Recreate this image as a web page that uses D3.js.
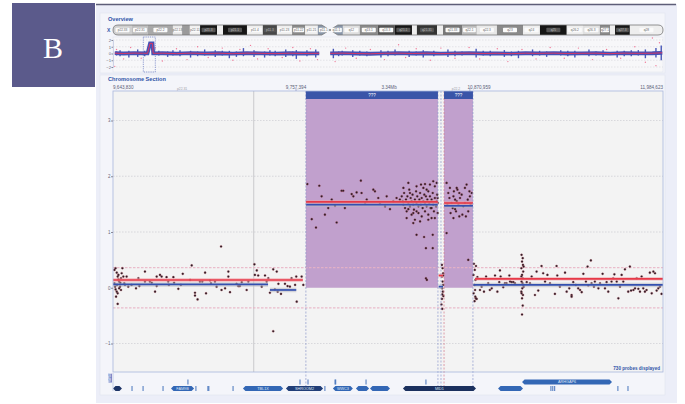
<!DOCTYPE html>
<html>
<head>
<meta charset="utf-8">
<script src="https://cdn.jsdelivr.net/npm/d3@7"></script>
<style>
  body { margin: 0; background: #fff; }
  svg { display: block; font-family: "Liberation Sans", Arial, sans-serif; }
</style>
</head>
<body>
<svg id="chart" width="685" height="404"></svg>
<script>
// chromosome X ideogram bands: [start Mb, end Mb, name, stain]
const bands = [
  [0, 5.4, "p22.33", "#cfcfcf"], [5.4, 9.9, "p22.31", "#bdbdbd"], [9.9, 17.0, "p22.2", "#a8a8a8"],
  [17.0, 19.6, "p22.13", "#e8e8e8"], [19.6, 21.8, "p22.12", "#9a9a9a"], [21.8, 24.7, "p22.11", "#f0f0f0"],
  [24.7, 29.5, "p21.3", "#161616"], [29.5, 31.2, "p21.2", "#eeeeee"], [31.2, 38.0, "p21.1", "#161616"],
  [38.0, 42.5, "p11.4", "#eeeeee"], [42.5, 46.5, "p11.3", "#474747"], [46.5, 50.8, "p11.23", "#eeeeee"],
  [50.8, 54.5, "p11.22", "#8a8a8a"], [54.5, 58.1, "p11.21", "#eeeeee"], [58.1, 61.5, "p11.1", "#8996a8"],
  [61.5, 65.2, "q11.1", "#8996a8"], [65.2, 70.0, "q12", "#dddddd"], [70.0, 75.1, "q13.1", "#8a8a8a"],
  [75.1, 79.9, "q13.3", "#555555"], [79.9, 84.8, "q21.1", "#161616"], [84.8, 86.2, "q21.2", "#eeeeee"],
  [86.2, 91.9, "q21.31", "#333333"], [91.9, 93.6, "q21.32", "#eeeeee"], [93.6, 99.0, "q21.33", "#777777"],
  [99.0, 103.2, "q22.1", "#bbbbbb"], [103.2, 108.9, "q22.3", "#e8e8e8"], [108.9, 116.3, "q23", "#8a8a8a"],
  [116.3, 121.1, "q24", "#eeeeee"], [121.1, 128.7, "q25", "#161616"], [128.7, 133.3, "q26.2", "#eeeeee"],
  [133.3, 138.1, "q26.3", "#e0e0e0"], [138.1, 141.0, "q27.1", "#8a8a8a"], [141.0, 142.4, "q27.2", "#eeeeee"],
  [142.4, 146.6, "q27.3", "#161616"], [146.6, 156.0, "q28", "#eeeeee"]
];
const centromere = 61.5;
const chrLength = 156;

// overview (whole chromosome) trend, spikes and outliers
const overviewTrend = [
  [0.5, 0.05], [3, 0.0], [6, 0.06], [9.8, 0.02], [10.5, 1.5], [11.2, 1.5], [11.4, 0.02],
  [14, 0.04], [18, -0.02], [22, 0.05], [26, 0.0], [30, 0.04], [34, -0.03], [38, 0.05],
  [42, 0.02], [46, -0.02], [50, 0.04], [54, 0.0], [58.5, 0.03], [59, null],
  [61.6, 0.02], [65, 0.05], [69, 0.0], [73, -0.04], [77, 0.03], [81, 0.05], [85, 0.0],
  [89, 0.04], [93, -0.02], [97, 0.03], [101, 0.05], [105, 0.0], [109, 0.03], [113, -0.02],
  [117, 0.04], [121, 0.02], [125, 0.05], [129, 0.0], [133, 0.03], [137, 0.04], [141, -0.02],
  [145, 0.05], [149, 0.02], [153, 0.04], [155.8, 0.1]
];
const overviewSpikes = [
  [2, -0.4, 0.5], [4.5, -0.6, 0.4], [7, -0.5, 0.6], [13, -0.3, 0.4], [15.5, -0.5, 0.3], [19, -0.4, 0.5],
  [22, -0.6, 0.4], [26, -0.3, 0.6], [29, -0.5, 0.5], [33, -0.7, 0.4], [37, -0.4, 0.8], [40, -0.5, 0.5],
  [43, -0.6, 0.3], [46, -0.4, 0.4], [49, -0.5, 0.6], [52, -0.8, 0.5], [55, -0.4, 0.5], [57.5, -0.6, 0.6],
  [62.5, -0.7, 0.7], [65, -0.3, 0.4], [68, -0.5, 0.5], [72, -0.4, 0.3], [76, -0.6, 0.5], [80, -0.3, 0.6],
  [84, -0.5, 0.4], [88, -0.6, 0.5], [91, -0.4, 0.4], [95, -0.5, 0.6], [99, -0.3, 0.3], [103, -0.6, 0.7],
  [107, -0.4, 0.4], [111, -0.5, 0.5], [115, -0.7, 0.4], [119, -0.4, 0.6], [123, -0.5, 0.3], [127, -0.3, 0.5],
  [131, -0.6, 0.4], [135, -0.4, 0.6], [139, -0.5, 0.5], [143, -0.6, 0.4], [147, -0.4, 0.5], [151, -0.7, 0.6],
  [154, -0.6, 0.8], [155.5, -1.0, 1.2],
  [1, -0.3, 0.3], [9, -0.4, 0.4], [17, -0.3, 0.5], [24, -0.4, 0.3], [31, -0.3, 0.4], [35, -0.5, 0.3],
  [44.5, -0.3, 0.5], [51, -0.4, 0.3], [64, -0.4, 0.3], [70, -0.3, 0.4], [78, -0.4, 0.4], [86, -0.3, 0.3],
  [97, -0.4, 0.4], [105, -0.3, 0.4], [113, -0.4, 0.3], [121, -0.3, 0.4], [129, -0.4, 0.4], [137, -0.3, 0.3],
  [145, -0.4, 0.4], [149, -0.3, 0.5]
];
const overviewDots = [
  [0.5, -1.9], [1, 0.6], [3, -0.8], [5, 0.9], [8, -0.7], [12, 0.8], [14, -1.1], [18, 0.7], [21, -0.9],
  [24, 1.0], [27, -0.6], [31, 0.8], [34, -1.0], [36, 0.6], [39, 1.2], [41, -0.8], [44, 0.7], [48, -0.6],
  [51, 0.9], [53, -1.1], [56, 0.7], [58, -0.9], [63, -1.2], [66, 0.8], [69, -0.7], [73, 0.6], [77, -0.9],
  [81, 1.3], [83, -0.6], [86, 0.7], [90, -1.0], [93, 0.8], [97, -0.7], [101, 0.9], [104, -0.8], [109, 0.7],
  [112, -1.2], [116, 0.6], [120, -0.8], [124, 0.9], [128, -0.7], [132, 0.8], [136, -0.9], [140, 0.6],
  [144, -0.7], [148, 1.0], [151, -1.3], [154, -1.8], [155, 1.6], [153, 2.3]
];
const overviewWindow = [8.6, 12.0];
const overviewTicks = [2, 1, 0, -1, -2];

// chromosome section: probes as [kb from window start, log2 ratio]
const probesLeft = [
  [6, 0.32], [11, 0.35], [16, 0.27], [20, 0.20], [23, 0.15], [26, 0.11], [6, 0.08], [9, 0.02], [11, -0.03],
  [16, -0.07], [20, -0.10], [13, -0.16], [20, -0.29], [30, 0.02], [34, 0.17], [37, 0.26], [40, 0.35],
  [44, 0.20], [48, 0.08], [34, -0.04], [26, -0.01], [17, 0.05], [23, 0.23], [31, 0.09], [51, 0.05], [58, 0.20],
  [65, 0.02], [79, 0.05], [98, -0.01], [108, 0.17], [112, 0.03], [136, 0.11], [136, 0.29], [157, 0.11],
  [165, 0.09], [179, -0.07], [186, 0.20], [186, 0.03], [200, 0.23], [207, 0.20], [228, 0.19], [235, 0.11],
  [238, 0.05], [257, 0.19], [260, 0.09], [278, -0.02], [289, 0.05], [297, 0.25], [328, 0.14], [335, 0.40],
  [349, -0.09], [349, -0.14], [360, -0.21], [370, 0.11], [380, 0.11], [392, 0.27], [396, -0.10], [413, 0.13],
  [417, 0.08], [434, 0.11], [441, 0.02], [460, 0.74], [462, -0.04], [477, -0.01], [491, 0.29], [491, 0.20],
  [498, -0.08], [526, 0.07], [533, 0.03], [540, 0.03], [548, 0.10], [569, -0.04], [576, 0.11], [602, 0.42],
  [604, 0.23], [612, 0.31], [618, 0.22], [633, 0.02], [647, 0.22], [654, 0.11], [661, 0.17], [668, -0.09],
  [682, 0.33], [682, -0.78], [689, -0.03], [697, 0.29], [701, -0.07], [704, 0.07], [715, -0.11], [732, 0.07],
  [743, 0.03], [753, 0.02], [760, 0.17], [775, 0.05], [780, 0.20], [782, -0.25], [803, 0.20], [810, 0.05]
];
const probesGain = [
  [827, 1.86], [878, 1.83], [846, 1.23], [864, 1.08], [888, 1.64], [902, 1.31], [916, 1.43], [931, 1.58],
  [945, 1.47], [952, 1.17], [973, 1.74], [980, 1.74], [987, 1.43], [1016, 1.68], [1023, 1.64], [1037, 1.71],
  [1055, 1.92], [1058, 1.70], [1073, 1.52], [1080, 1.58], [1108, 1.76], [1115, 1.73], [1129, 1.61],
  [1136, 1.51], [1158, 1.46], [1165, 1.64], [1179, 1.41], [1193, 1.55], [1207, 1.61], [1221, 1.58],
  [1229, 1.64], [1233, 1.55], [1236, 1.49], [1239, 1.70], [1243, 1.43], [1247, 1.58], [1250, 1.37],
  [1253, 1.64], [1257, 1.52], [1257, 1.88], [1261, 1.76], [1264, 1.46], [1267, 1.61], [1271, 1.55],
  [1271, 1.31], [1275, 1.67], [1278, 1.49], [1281, 1.40], [1285, 1.58], [1285, 1.22], [1290, 1.73],
  [1292, 1.52], [1292, 0.95], [1295, 1.64], [1300, 1.46], [1300, 1.34], [1304, 1.58], [1307, 1.70],
  [1310, 1.49], [1314, 1.61], [1314, 1.28], [1318, 1.43], [1321, 1.55], [1324, 0.91], [1325, 1.67],
  [1328, 1.52], [1328, 1.37], [1332, 1.64], [1332, 0.71], [1335, 1.46], [1338, 1.58], [1342, 1.73],
  [1342, 1.31], [1346, 1.52], [1349, 1.85], [1349, 1.64], [1352, 1.43], [1356, 1.58], [1356, 1.25],
  [1361, 1.70], [1361, 0.95], [1363, 1.49], [1363, 1.91], [1366, 1.37], [1370, 1.61], [1370, 1.82],
  [1375, 1.46], [1378, 1.55], [1378, 1.88], [1380, 1.67], [1382, 1.52], [1382, 1.34], [1382, 1.61],
  [1342, 1.22], [1307, 1.19], [1278, 1.34], [1250, 1.25], [1264, 1.70], [1236, 1.79], [1257, 1.41],
  [1292, 1.37], [1321, 1.79], [1335, 1.76], [1356, 1.43], [1370, 1.25], [1292, 1.82], [1311, 1.85],
  [1328, 1.86], [1361, 0.71], [1278, 1.16], [1332, 0.17], [1336, 0.14],
  [1400, 0.41], [1403, 0.35], [1405, 0.26], [1400, 0.20], [1403, 0.11], [1405, 0.05], [1401, -0.01],
  [1404, -0.07], [1402, -0.12], [1406, -0.15], [1400, -0.20], [1405, 0.22], [1398, -0.30], [1401, -0.38],
  [1420, 1.88], [1427, 1.70], [1432, 1.61], [1434, 1.79], [1441, 1.52], [1446, 1.43], [1449, 1.64],
  [1451, 1.73], [1456, 1.58], [1460, 1.37], [1463, 1.55], [1466, 1.76], [1470, 1.49], [1474, 1.28],
  [1477, 1.61], [1484, 1.67], [1491, 1.46], [1498, 1.52], [1505, 1.85], [1510, 1.58], [1512, 1.37],
  [1517, 1.73], [1519, 1.64], [1522, 1.49], [1527, 1.70], [1423, 1.49], [1437, 1.34], [1449, 1.25],
  [1463, 1.79], [1487, 1.31], [1502, 1.28], [1420, 0.98], [1498, 1.79], [1474, 1.70], [1456, 1.41],
  [1512, 0.50]
];
const probesRight = [
  [1536, 0.43], [1540, 0.32], [1534, 0.23], [1543, 0.14], [1538, 0.05], [1541, -0.04], [1535, -0.10],
  [1544, -0.19], [1539, -0.24], [1545, 0.39], [1548, -0.20], [1542, -0.16],
  [1551, 0.19], [1562, -0.04], [1569, 0.02], [1579, -0.07], [1588, 0.20], [1597, 0.08], [1604, -0.04],
  [1612, -0.01], [1626, 0.22], [1636, -0.07], [1644, 0.10], [1647, 0.31], [1650, 0.20], [1661, 0.01],
  [1668, 0.08], [1675, 0.08], [1687, 0.22], [1690, 0.11], [1697, 0.10], [1704, 0.10], [1711, 0.08],
  [1739, 0.59], [1744, 0.53], [1741, 0.47], [1745, 0.41], [1738, 0.35], [1746, 0.29], [1741, 0.23],
  [1744, 0.17], [1739, 0.11], [1746, 0.05], [1742, -0.01], [1738, -0.07], [1745, -0.13], [1741, -0.19],
  [1744, -0.32], [1741, -0.48], [1748, 0.38], [1738, 0.20], [1748, 0.02], [1739, -0.10], [1743, 0.08],
  [1761, 0.10], [1775, 0.08], [1782, 0.20], [1796, -0.13], [1803, 0.29], [1810, -0.05], [1824, 0.39],
  [1831, 0.26], [1839, 0.11], [1849, 0.23], [1860, 0.08], [1881, -0.11], [1888, 0.39], [1891, 0.22],
  [1902, 0.02], [1924, 0.27], [1931, -0.07], [1942, -0.01], [1952, -0.13], [1952, -0.16], [1959, 0.10],
  [1970, 0.05], [1980, -0.01], [1988, -0.04], [1995, -0.08], [2002, 0.25], [2013, 0.11], [2020, 0.38],
  [2023, 0.04], [2034, 0.49], [2037, 0.08], [2047, 0.02], [2051, 0.11], [2066, -0.01], [2073, 0.08],
  [2084, 0.25], [2094, -0.01], [2101, 0.10], [2108, -0.07], [2122, 0.11], [2129, 0.17], [2134, 0.24],
  [2144, 0.11], [2151, -0.19], [2158, 0.02], [2165, 0.23], [2172, 0.11], [2179, 0.33], [2193, -0.07],
  [2200, 0.38], [2205, -0.05], [2215, -0.04], [2222, -0.01], [2229, 0.17], [2236, -0.02], [2243, -0.07],
  [2250, 0.20], [2257, -0.01], [2264, -0.07], [2271, -0.04], [2285, 0.27], [2293, -0.10], [2300, 0.29],
  [2307, 0.26], [2314, -0.05], [2321, -0.01], [2328, 0.02], [2335, -0.11]
];

// segment means [start kb, end kb, value]
const segRed = [[0, 808, 0.14], [821, 1383, 1.54], [1386, 1405, 0.22], [1409, 1532, 1.52], [1541, 2341, 0.16]];
const segBlue = [[0, 660, 0.06], [668, 780, -0.04], [821, 1383, 1.49], [1386, 1405, 0.02], [1409, 1532, 1.47], [1534, 2341, 0.05]];

const aberrations = [[821, 1383, "???"], [1409, 1532, "???"]];
const boundaries = [[821, "#8c9acb"], [1383, "#8c9acb"], [1396, "#8c9acb"], [1409, "#d47a8a"], [1532, "#8c9acb"]];
const cytoLine = 599;
const cytoLabels = [[294, "p22.31"], [1460, "p22.2"]];
const thresholds = [0.36, -0.36];
const mainTicks = [3, 2, 1, 0, -1];
const gridVals = [3, 2, 1, -1];
const windowKb = 2341;
const posLabels = [[0, "9,643,830", "start"], [779, "9,757,394", "middle"], [1175, "3.34Mb", "middle"],
  [1558, "10,870,959", "middle"], [windowKb, "11,984,623", "end"]];
const posTicks = [779, 1519];

// genes [start kb, end kb, name, row, colour]
const genes = [
  [0, 38, "", 0, "#1d3466"], [247, 345, "FAM9B", 0, "#3367b5"], [553, 724, "TBL1X", 0, "#3367b5"],
  [736, 894, "SHROOM2", 0, "#213e78"], [936, 1021, "WWC3", 0, "#3367b5"], [1034, 1090, "", 0, "#3367b5"],
  [1094, 1179, "", 0, "#3367b5"], [1234, 1545, "MID1", 0, "#1b305e"], [1639, 1745, "", 0, "#3367b5"],
  [1741, 2124, "ARHGAP6", 1, "#3367b5"]
];
const geneTicks = [[81, 0], [128, 0], [213, 0], [353, 0], [404, 0], [408, 0], [511, 0], [902, 0],
  [1864, 0], [1872, 0], [1880, 0], [2149, 0], [2192, 0], [319, 1], [796, 1], [830, 1], [945, 1],
  [948, 1], [1077, 1], [1332, 1]];
const probeCount = 730;

const svg = d3.select("#chart");

// frame
svg.append("rect").attr("x", 12).attr("y", 3).attr("width", 83).attr("height", 84).attr("fill", "#5b5a8b");
svg.append("text").attr("x", 53).attr("y", 58).attr("text-anchor", "middle")
  .attr("font-family", "'Liberation Serif', 'DejaVu Serif', serif").attr("font-size", 30)
  .attr("fill", "#fff").text("B");
svg.append("rect").attr("x", 96).attr("y", 4).attr("width", 581).attr("height", 399).attr("fill", "#eceef8");
svg.append("line").attr("x1", 96).attr("x2", 676).attr("y1", 4.5).attr("y2", 4.5)
  .attr("stroke", "#5e5e78").attr("stroke-width", 1.4);
svg.append("rect").attr("x", 100).attr("y", 13).attr("width", 565).attr("height", 60)
  .attr("fill", "#f4f5fa").attr("stroke", "#e0e3ef").attr("stroke-width", 0.6);
svg.append("rect").attr("x", 100).attr("y", 75).attr("width", 565).attr("height", 320)
  .attr("fill", "#f4f5fa").attr("stroke", "#e0e3ef").attr("stroke-width", 0.6);

svg.append("text").attr("x", 108).attr("y", 20.5).attr("font-size", 5.6).attr("font-weight", "bold")
  .attr("fill", "#2f54a8").text("Overview");
svg.append("text").attr("x", 108).attr("y", 80.5).attr("font-size", 5.6).attr("font-weight", "bold")
  .attr("fill", "#2f54a8").text("Chromosome Section");

// ---------- overview ----------
const xChr = d3.scaleLinear().domain([0, chrLength]).range([113, 663]);
const yOv = d3.scaleLinear().domain([-2, 2]).range([67, 40]);
const ideoTop = 25, ideoBot = 35, ideoMid = 30;

const cx = xChr(centromere), x0 = xChr(0), x1 = xChr(chrLength);
const outline = `M${x0 + 5},${ideoTop} L${cx - 8},${ideoTop} L${cx},${ideoMid} L${cx + 8},${ideoTop} L${x1 - 5},${ideoTop}
  Q${x1},${ideoTop} ${x1},${ideoMid} Q${x1},${ideoBot} ${x1 - 5},${ideoBot} L${cx + 8},${ideoBot} L${cx},${ideoMid}
  L${cx - 8},${ideoBot} L${x0 + 5},${ideoBot} Q${x0},${ideoBot} ${x0},${ideoMid} Q${x0},${ideoTop} ${x0 + 5},${ideoTop} Z`;
svg.append("clipPath").attr("id", "ideoClip").append("path").attr("d", outline);

const ideo = svg.append("g").attr("clip-path", "url(#ideoClip)");
ideo.selectAll("rect").data(bands).enter().append("rect")
  .attr("x", d => xChr(d[0])).attr("width", d => xChr(d[1]) - xChr(d[0]))
  .attr("y", ideoTop).attr("height", ideoBot - ideoTop).attr("fill", d => d[3]);
svg.append("path").attr("d", outline).attr("fill", "none").attr("stroke", "#777").attr("stroke-width", 0.8);

const isDark = d => d[3] === "#161616" || d[3] === "#333333" || d[3] === "#474747";
const bandLabels = svg.append("g").selectAll("g").data(bands.filter(d => xChr(d[1]) - xChr(d[0]) > 9)).enter().append("g")
  .attr("transform", d => `translate(${(xChr(d[0]) + xChr(d[1])) / 2},${ideoMid})`);
bandLabels.append("rect").attr("x", d => -Math.min(7, (xChr(d[1]) - xChr(d[0])) / 2 - 1)).attr("y", -2.3)
  .attr("width", d => 2 * Math.min(7, (xChr(d[1]) - xChr(d[0])) / 2 - 1)).attr("height", 4.6).attr("rx", 0.8)
  .attr("fill", d => isDark(d) ? "#555" : "#fafafa");
bandLabels.append("text").attr("text-anchor", "middle").attr("dy", 1.2).attr("font-size", 3.2)
  .attr("fill", d => isDark(d) ? "#bbb" : "#666").text(d => d[2]);

svg.append("text").attr("x", 107).attr("y", 32).attr("font-size", 5).attr("font-weight", "bold")
  .attr("fill", "#2f54a8").text("X");

svg.append("rect").attr("x", 113).attr("y", 37).attr("width", 550).attr("height", 35)
  .attr("fill", "#f7f7f9").attr("stroke", "#dde1ee").attr("stroke-width", 0.5);
svg.append("g").selectAll("line").data(overviewTicks.filter(v => v !== 0)).enter().append("line")
  .attr("x1", 113).attr("x2", 663).attr("y1", d => yOv(d)).attr("y2", d => yOv(d))
  .attr("stroke", "#cfcfd6").attr("stroke-width", 0.5).attr("stroke-dasharray", "1.5,1.5");

svg.append("g").attr("transform", "translate(113,0)")
  .call(d3.axisLeft(yOv).tickValues(overviewTicks).tickSize(1.5).tickFormat(d3.format("d")))
  .call(g => g.select(".domain").attr("stroke", "#a9b4d8").attr("stroke-width", 0.5))
  .call(g => g.selectAll("line").attr("stroke", "#889"))
  .call(g => g.selectAll("text").attr("font-size", 4.2).attr("fill", "#667").attr("x", -2));

svg.append("g").selectAll("circle").data(overviewDots).enter().append("circle")
  .attr("cx", d => xChr(d[0])).attr("cy", d => yOv(d[1])).attr("r", 0.7).attr("fill", "#f07a98");
svg.append("g").selectAll("line").data(overviewSpikes).enter().append("line")
  .attr("x1", d => xChr(d[0])).attr("x2", d => xChr(d[0])).attr("y1", d => yOv(d[1])).attr("y2", d => yOv(d[2]))
  .attr("stroke", "#4656b8").attr("stroke-width", 1.4);

const ovLine = d3.line().defined(d => d[1] !== null).x(d => xChr(d[0])).y(d => yOv(d[1]));
svg.append("path").datum(overviewTrend).attr("d", ovLine).attr("fill", "none")
  .attr("stroke", "#4552b6").attr("stroke-width", 3.8);
svg.append("path").datum(overviewTrend).attr("d", ovLine).attr("fill", "none")
  .attr("stroke", "#e8345a").attr("stroke-width", 0.9);

svg.append("rect").attr("x", xChr(overviewWindow[0])).attr("y", 37)
  .attr("width", xChr(overviewWindow[1]) - xChr(overviewWindow[0])).attr("height", 35)
  .attr("fill", "none").attr("stroke", "#4b62b8").attr("stroke-width", 0.6).attr("stroke-dasharray", "1.2,1");

// ---------- chromosome section ----------
const xKb = d3.scaleLinear().domain([0, windowKb]).range([113, 663]);
const y = d3.scaleLinear().domain([-1, 3]).range([343.5, 120.5]);
const plotTop = 91, plotBottom = 372;

svg.append("rect").attr("x", 113).attr("y", plotTop).attr("width", 550).attr("height", plotBottom - plotTop)
  .attr("fill", "#f3f3f3");

svg.append("g").selectAll("line").data(gridVals).enter().append("line")
  .attr("x1", 113).attr("x2", 663).attr("y1", d => y(d)).attr("y2", d => y(d))
  .attr("stroke", "#c6c6cc").attr("stroke-width", 0.6).attr("stroke-dasharray", "1.5,1.5");

svg.append("line").attr("x1", xKb(cytoLine)).attr("x2", xKb(cytoLine)).attr("y1", plotTop).attr("y2", plotBottom)
  .attr("stroke", "#b8b8bc").attr("stroke-width", 0.7);

svg.append("g").selectAll("rect").data(aberrations).enter().append("rect")
  .attr("x", d => xKb(d[0])).attr("width", d => xKb(d[1]) - xKb(d[0]))
  .attr("y", plotTop).attr("height", d => y(0) - plotTop).attr("fill", "#c1a0cd");

svg.append("g").selectAll("line").data(thresholds).enter().append("line")
  .attr("x1", 113).attr("x2", 663).attr("y1", d => y(d)).attr("y2", d => y(d))
  .attr("stroke", "#e9b3c5").attr("stroke-width", 1.3).attr("stroke-dasharray", "2.5,1.5").attr("opacity", 0.85);

const probes = probesLeft.concat(probesGain, probesRight);
svg.append("g").selectAll("circle").data(probes).enter().append("circle")
  .attr("cx", d => xKb(d[0])).attr("cy", d => y(d[1])).attr("r", 1.1)
  .attr("fill", "#231f28").attr("stroke", "#b8404f").attr("stroke-width", 0.3);

svg.append("g").selectAll("line").data(segBlue).enter().append("line")
  .attr("x1", d => xKb(d[0])).attr("x2", d => xKb(d[1])).attr("y1", d => y(d[2])).attr("y2", d => y(d[2]))
  .attr("stroke", "#b9b9c2").attr("stroke-width", 4.5).attr("opacity", 0.55);
svg.append("g").selectAll("line").data(segBlue).enter().append("line")
  .attr("x1", d => xKb(d[0])).attr("x2", d => xKb(d[1])).attr("y1", d => y(d[2])).attr("y2", d => y(d[2]))
  .attr("stroke", "#3450b0").attr("stroke-width", 1.7);
svg.append("g").selectAll("line").data(segRed).enter().append("line")
  .attr("x1", d => xKb(d[0])).attr("x2", d => xKb(d[1])).attr("y1", d => y(d[2])).attr("y2", d => y(d[2]))
  .attr("stroke", "#f2a0a8").attr("stroke-width", 3.4).attr("opacity", 0.7);
svg.append("g").selectAll("line").data(segRed).enter().append("line")
  .attr("x1", d => xKb(d[0])).attr("x2", d => xKb(d[1])).attr("y1", d => y(d[2])).attr("y2", d => y(d[2]))
  .attr("stroke", "#e63a48").attr("stroke-width", 1.6);

svg.append("g").selectAll("line").data(boundaries).enter().append("line")
  .attr("x1", d => xKb(d[0])).attr("x2", d => xKb(d[0])).attr("y1", plotTop).attr("y2", 392)
  .attr("stroke", d => d[1]).attr("stroke-width", 0.7).attr("stroke-dasharray", "2,1.5");

const headers = svg.append("g").selectAll("g").data(aberrations).enter().append("g");
headers.append("rect").attr("x", d => xKb(d[0])).attr("width", d => xKb(d[1]) - xKb(d[0]))
  .attr("y", plotTop).attr("height", 8).attr("fill", "#3a55a8");
headers.append("text").attr("x", d => (xKb(d[0]) + xKb(d[1])) / 2).attr("y", plotTop + 5.8)
  .attr("text-anchor", "middle").attr("font-size", 4.5).attr("fill", "#fff").text(d => d[2]);

svg.append("rect").attr("x", 113).attr("y", plotTop).attr("width", 550).attr("height", plotBottom - plotTop)
  .attr("fill", "none").attr("stroke", "#a9b6dc").attr("stroke-width", 0.8);

svg.append("g").attr("transform", "translate(113,0)")
  .call(d3.axisLeft(y).tickValues(mainTicks).tickSize(2).tickFormat(d3.format("d")))
  .call(g => g.select(".domain").remove())
  .call(g => g.selectAll("line").attr("stroke", "#889"))
  .call(g => g.selectAll("text").attr("font-size", 4.5).attr("fill", "#667").attr("x", -2.5));

// position axis above the plot
svg.append("g").selectAll("text").data(posLabels).enter().append("text")
  .attr("x", d => xKb(d[0])).attr("y", 88.5).attr("text-anchor", d => d[2])
  .attr("font-size", 4.6).attr("fill", "#5a6078").text(d => d[1]);
svg.append("g").selectAll("line").data(posTicks).enter().append("line")
  .attr("x1", d => xKb(d)).attr("x2", d => xKb(d)).attr("y1", plotTop - 2.5).attr("y2", plotTop)
  .attr("stroke", "#7d89b8").attr("stroke-width", 0.6);
svg.append("g").selectAll("text").data(cytoLabels).enter().append("text")
  .attr("x", d => xKb(d[0])).attr("y", 90.3).attr("text-anchor", "middle")
  .attr("font-size", 3.4).attr("fill", "#a0a0a8").text(d => d[1]);

svg.append("text").attr("x", 660).attr("y", 369.5).attr("text-anchor", "end")
  .attr("font-size", 4.6).attr("font-weight", "bold").attr("fill", "#2f54a8")
  .text(`${probeCount} probes displayed`);

// ---------- gene track ----------
const rowY = [386, 379.5];
const geneShape = d => {
  const a = xKb(d[0]), b = xKb(d[1]), t = rowY[d[3]], h = 5, m = t + h / 2, p = Math.min(2.5, (b - a) / 3);
  return `M${a + p},${t} L${b - p},${t} L${b},${m} L${b - p},${t + h} L${a + p},${t + h} L${a},${m} Z`;
};
const geneG = svg.append("g").selectAll("g").data(genes).enter().append("g");
geneG.append("path").attr("d", geneShape).attr("fill", d => d[4]);
geneG.append("text").attr("x", d => (xKb(d[0]) + xKb(d[1])) / 2).attr("y", d => rowY[d[3]] + 3.9)
  .attr("text-anchor", "middle").attr("font-size", 3.8).attr("fill", "#dfe6f5").text(d => d[2]);

svg.append("g").selectAll("line").data(geneTicks).enter().append("line")
  .attr("x1", d => xKb(d[0])).attr("x2", d => xKb(d[0]))
  .attr("y1", d => rowY[d[1]]).attr("y2", d => rowY[d[1]] + 5)
  .attr("stroke", "#3367b5").attr("stroke-width", 0.9);

svg.append("line").attr("x1", 113).attr("x2", 113).attr("y1", 373).attr("y2", 391)
  .attr("stroke", "#a9b6dc").attr("stroke-width", 0.6);
svg.append("rect").attr("x", 108.5).attr("y", 373.5).attr("width", 3.5).attr("height", 9).attr("fill", "#6d7fc6");
svg.append("text").attr("transform", "translate(111.3,382) rotate(-90)").attr("font-size", 2.8)
  .attr("fill", "#fff").text("RefSeq");
</script>
</body>
</html>
